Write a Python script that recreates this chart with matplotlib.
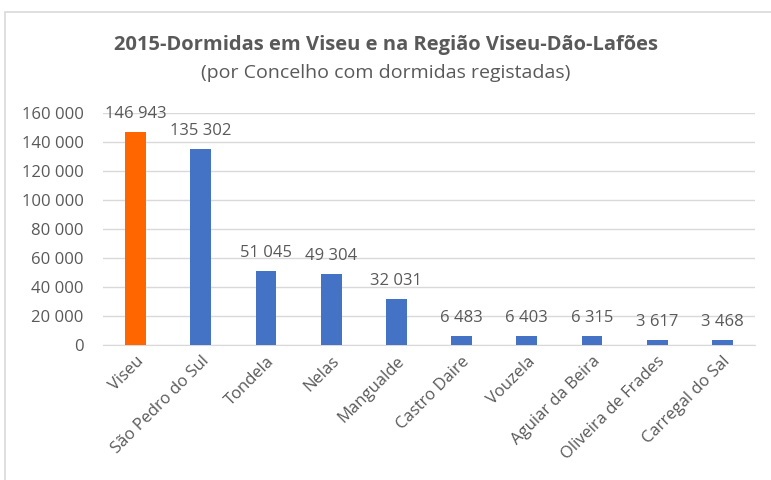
import matplotlib.pyplot as plt
from matplotlib.patches import Rectangle
from matplotlib.ticker import FuncFormatter, MultipleLocator

plt.rcParams['font.family'] = ['Open Sans', 'DejaVu Sans']

# dados
concelhos = ['Viseu', 'São Pedro do Sul', 'Tondela', 'Nelas', 'Mangualde',
             'Castro Daire', 'Vouzela', 'Aguiar da Beira', 'Oliveira de Frades',
             'Carregal do Sal']
dormidas = [146943, 135302, 51045, 49304, 32031, 6483, 6403, 6315, 3617, 3468]
cores = ['#FF6600'] + ['#4472C4'] * 9

cinza = '#595959'

def fmt(v, pos=None):
    return '{:,}'.format(int(v)).replace(',', ' ')

fig = plt.figure(figsize=(7.71, 4.8), dpi=100)
fig.patches.append(Rectangle((5/771, -0.1), 1.0, (480-12)/480 + 0.1,
                             transform=fig.transFigure, fill=False,
                             edgecolor='#D9D9D9', linewidth=1.2))

ax = fig.add_axes([103/771, 1-345/480, (755-103)/771, (345-113)/480])
x = range(len(concelhos))
barras = ax.bar(x, dormidas, width=0.32, color=cores, zorder=3)

ax.set_ylim(0, 160000)
ax.set_xlim(-0.5, len(concelhos)-0.5)
ax.yaxis.set_major_locator(MultipleLocator(20000))
ax.yaxis.set_major_formatter(FuncFormatter(fmt))
ax.grid(axis='y', color='#D9D9D9', linewidth=1, zorder=0)
for s in ['top', 'right', 'left']:
    ax.spines[s].set_visible(False)
ax.spines['bottom'].set_color('#D9D9D9')
ax.tick_params(length=0, colors=cinza, labelsize=12)
ax.tick_params(axis='y', pad=14)
ax.tick_params(axis='x', pad=6)
ax.set_xticks(list(x))
ax.set_xticklabels(concelhos, rotation=45, ha='right', rotation_mode='anchor')

for b, v in zip(barras, dormidas):
    ax.annotate(fmt(v), (b.get_x() + b.get_width()/2, v), xytext=(0, 7),
                textcoords='offset points', ha='center', va='bottom',
                fontsize=12, color=cinza, clip_on=False)

fig.text(0.5, 1-45/480, '2015-Dormidas em Viseu e na Região Viseu-Dão-Lafões',
         ha='center', va='center', fontsize=14.5, fontweight='bold', color=cinza)
fig.text(0.5, 1-73/480, '(por Concelho com dormidas registadas)',
         ha='center', va='center', fontsize=14, color=cinza)

fig.savefig('out.png', dpi=100)
